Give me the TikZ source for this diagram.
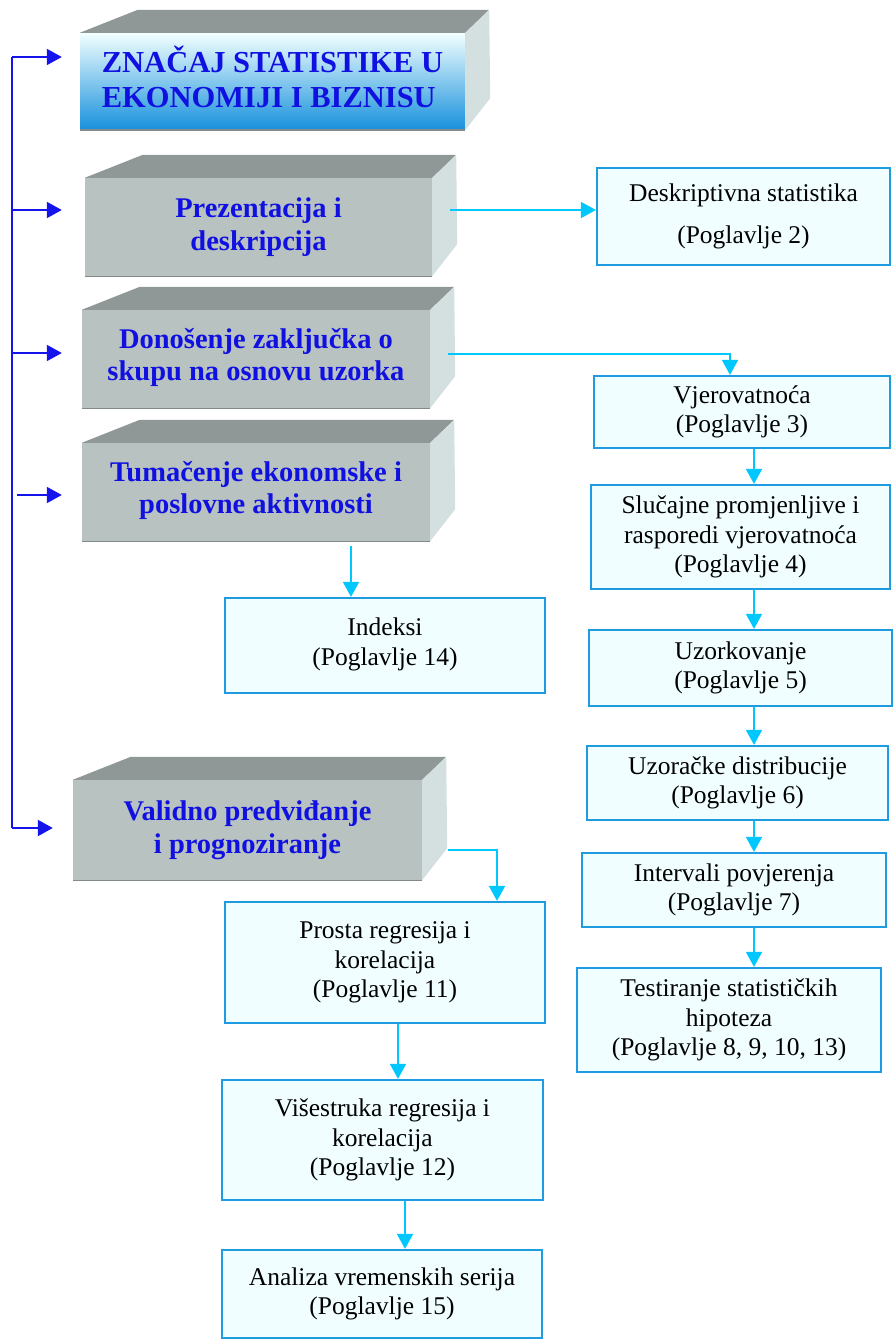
\documentclass[tikz,border=0pt]{standalone}
\usepackage{fontspec}
\setmainfont{Liberation Serif}
\usetikzlibrary{arrows.meta}

\definecolor{frontgray}{RGB}{184,194,193}
\definecolor{topgray}{RGB}{143,151,151}
\definecolor{sidegray}{RGB}{212,224,223}
\definecolor{edgegray}{RGB}{130,138,138}
\definecolor{boxfill}{RGB}{240,254,255}
\definecolor{boxline}{RGB}{30,155,225}
\definecolor{linkcyan}{RGB}{0,200,255}
\definecolor{spineblue}{RGB}{20,20,235}
\definecolor{titleblue}{RGB}{16,16,224}
\definecolor{shadetop}{RGB}{242,255,255}
\definecolor{shademid}{RGB}{170,212,240}
\definecolor{shadebot}{RGB}{22,144,220}

% top and right faces of a block whose front face is node #1
\newcommand\blockfaces[1]{%
  \fill[topgray] (#1.north west) -- ++(58,-23) -- ([shift={(24,-23)}]#1.north east) -- (#1.north east) -- cycle;
  \fill[sidegray] (#1.north east) -- ++(24,-23) -- ([shift={(25,-32)}]#1.south east) -- (#1.south east) -- cycle;
  \draw[edgegray, line width=1.4pt] (#1.south west) -- (#1.south east);
}

\begin{document}
\begin{tikzpicture}[x=1pt, y=-1pt,
  front/.style={rectangle, fill=frontgray, inner sep=0pt, text=titleblue,
    font=\fontsize{28.5}{32.5}\selectfont\bfseries, align=center},
  chapter/.style={rectangle, draw=boxline, line width=2.2pt, fill=boxfill,
    inner sep=0pt, font=\fontsize{25.5}{29.5}\selectfont, align=center},
  link/.style={draw=linkcyan, line width=1.7pt, -{Triangle[width=16pt,length=15pt]}},
  spine/.style={draw=spineblue, line width=2pt},
  spinearrow/.style={spine, -{Triangle[width=16pt,length=15pt]}},
]
\useasboundingbox (0,0) rectangle (893,1340);

% ---- main blocks ----
\node[front, minimum width=385, minimum height=97, shade, top color=shadetop,
  middle color=shademid, bottom color=shadebot,
  font=\fontsize{30.5}{35}\selectfont\bfseries, align=left]
  (title) at (272.5,81.5) {ZNAČAJ STATISTIKE U\\EKONOMIJI I BIZNISU\rule[-9pt]{0pt}{1pt}};
\blockfaces{title}

\node[front, minimum width=347, minimum height=98] (p1) at (258.5,227) {Prezentacija i\\deskripcija};
\blockfaces{p1}

\node[front, minimum width=348, minimum height=98] (p2) at (256,359) {Donošenje zaključka o\\skupu na osnovu uzorka\rule[-9pt]{0pt}{1pt}};
\blockfaces{p2}

\node[front, minimum width=348, minimum height=98] (p3) at (256,492) {Tumačenje ekonomske i\\poslovne aktivnosti\rule[-9pt]{0pt}{1pt}};
\blockfaces{p3}

\node[front, minimum width=349, minimum height=100] (p5) at (247.5,830) {Validno predviđanje\\i prognoziranje};
\blockfaces{p5}

% ---- chapter boxes ----
\node[chapter, minimum width=293, minimum height=97] (desk) at (743.5,216.5) {Deskriptivna statistika\\[12pt](Poglavlje 2)};
\node[chapter, minimum width=296, minimum height=72] (vjer) at (742,412) {Vjerovatnoća\\(Poglavlje 3)};
\node[chapter, minimum width=299, minimum height=104] (slu) at (740.5,537) {Slučajne promjenljive i\\rasporedi vjerovatnoća\\(Poglavlje 4)};
\node[chapter, minimum width=303, minimum height=76] (uzo) at (740.5,668) {Uzorkovanje\\(Poglavlje 5)};
\node[chapter, minimum width=301, minimum height=74] (uzd) at (737.5,783) {Uzoračke distribucije\\(Poglavlje 6)};
\node[chapter, minimum width=304, minimum height=74] (intv) at (734,890) {Intervali povjerenja\\(Poglavlje 7)};
\node[chapter, minimum width=304, minimum height=104] (test) at (729,1020) {Testiranje statističkih\\hipoteza\\(Poglavlje 8, 9, 10, 13)};
\node[chapter, minimum width=320, minimum height=95] (ind) at (385,645.5) {Indeksi\\(Poglavlje 14)\rule[-8pt]{0pt}{1pt}};
\node[chapter, minimum width=320, minimum height=121] (pros) at (385,962.5) {Prosta regresija i\\korelacija\\(Poglavlje 11)};
\node[chapter, minimum width=321, minimum height=120] (vis) at (382.5,1140) {Višestruka regresija i\\korelacija\\(Poglavlje 12)};
\node[chapter, minimum width=320, minimum height=88] (ana) at (382,1294) {Analiza vremenskih serija\\(Poglavlje 15)};

% ---- blue spine on the left ----
\coordinate (s0) at (12,57);
\coordinate (s1) at (12,210);
\coordinate (s2) at (12,353);
\coordinate (s3) at (17,495);
\coordinate (s4) at (12,828);
\draw[spine] (s0) -- (s4);
\draw[spinearrow, shorten >=18pt] (s0) -- (s0 -| title.west);
\draw[spinearrow, shorten >=23pt] (s1) -- (s1 -| p1.west);
\draw[spinearrow, shorten >=20pt] (s2) -- (s2 -| p2.west);
\draw[spinearrow, shorten >=20pt] (s3) -- (s3 -| p3.west);
\draw[spinearrow, shorten >=20pt] (s4) -- (s4 -| p5.west);

% ---- cyan links ----
\coordinate (c1) at (450,210);
\coordinate (c2) at (448,354);
\coordinate (c3) at (351,546);
\coordinate (c5) at (448,850);
\coordinate (rx) at (754,0);
\draw[link] (c1) -- (c1 -| desk.west);
\draw[link] (c2) -| ([xshift=-12pt]vjer.north);
\draw[link] (c3) -- (c3 |- ind.north);
\draw[link] (c5) -| ([xshift=112pt]pros.north);

\draw[link] (vjer.south -| rx) -- (slu.north -| rx);
\draw[link] (slu.south -| rx) -- (uzo.north -| rx);
\draw[link] (uzo.south -| rx) -- (uzd.north -| rx);
\draw[link] (uzd.south -| rx) -- (intv.north -| rx);
\draw[link] (intv.south -| rx) -- (test.north -| rx);

\draw[link] ([xshift=13pt]pros.south) -- ([xshift=15.5pt]vis.north);
\draw[link] ([xshift=22.5pt]vis.south) -- ([xshift=23pt]ana.north);
\end{tikzpicture}
\end{document}
